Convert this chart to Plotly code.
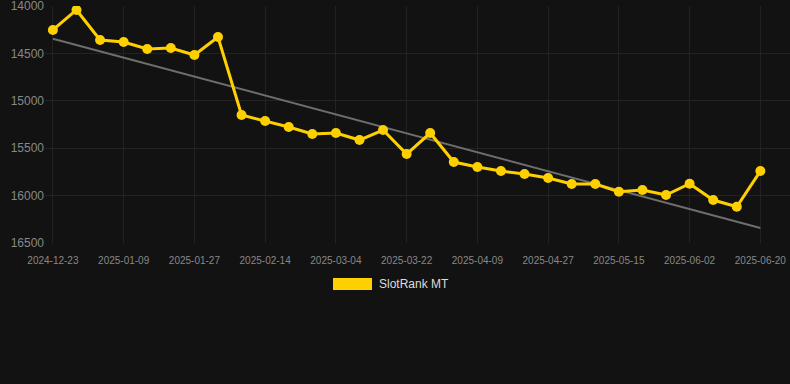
import plotly.graph_objects as go
import pandas as pd

# Data
start_date = "2024-12-23"
end_date = "2025-06-20"
n_points = 31
dates = list(pd.date_range(start_date, end_date, periods=n_points))
ranks = [14253, 14042, 14359, 14380, 14454, 14443, 14517, 14327, 15150, 15213,
         15277, 15350, 15340, 15414, 15308, 15562, 15340, 15646, 15699, 15741,
         15773, 15815, 15878, 15878, 15960, 15941, 15994, 15875, 16047, 16118,
         15741]
trend_dates = [start_date, end_date]
trend_values = [14345, 16342]
tick_dates = ["2024-12-23", "2025-01-09", "2025-01-27", "2025-02-14", "2025-03-04",
              "2025-03-22", "2025-04-09", "2025-04-27", "2025-05-15", "2025-06-02",
              "2025-06-20"]
tick_positions = list(pd.date_range(start_date, end_date, periods=len(tick_dates)))
y_ticks = [14000, 14500, 15000, 15500, 16000, 16500]
y_labels = [str(v) for v in y_ticks]
series_name = "SlotRank MT"

BG = "#121212"
GOLD = "#FFD000"
W, H = 790, 384
L, R, T, B = 45, 0, 6, 141

fig = go.Figure()
fig.add_trace(go.Scatter(x=trend_dates, y=trend_values, mode="lines",
                         line=dict(color="#6e6e6e", width=2), showlegend=False,
                         hoverinfo="skip"))
fig.add_trace(go.Scatter(x=dates, y=ranks, mode="lines+markers", name=series_name,
                         line=dict(color=GOLD, width=3),
                         marker=dict(color=GOLD, size=10), showlegend=False))

# manual legend (paper coords)
pw = W - L - R
ph = H - T - B
def px(x):
    return (x - L) / pw
def py(y):
    return (H - B - y) / ph
fig.add_shape(type="rect", xref="paper", yref="paper",
              x0=px(333), x1=px(372), y0=py(290), y1=py(278),
              fillcolor=GOLD, line=dict(width=0))
fig.add_annotation(xref="paper", yref="paper", x=px(377), y=py(284),
                   text=series_name, showarrow=False, xanchor="left", yanchor="middle",
                   font=dict(size=12, color="#dddddd"))

fig.update_layout(
    width=W, height=H,
    margin=dict(l=L, r=R, t=T, b=B),
    paper_bgcolor=BG, plot_bgcolor=BG,
    font=dict(family="Liberation Sans, Arial, sans-serif", color="#888888"),
    showlegend=False,
)
fig.update_xaxes(range=["2024-12-21", "2025-06-27 12:00"], tickvals=tick_positions,
                 ticktext=tick_dates, tickfont=dict(size=10, color="#888888"),
                 showgrid=True, gridcolor="#222222", gridwidth=1, zeroline=False,
                 showline=False, ticks="outside", ticklen=8, tickcolor=BG,
                 ticklabeloverflow="allow")
fig.update_yaxes(range=[16500, 14000], tickvals=y_ticks, ticktext=y_labels,
                 tickfont=dict(size=12, color="#888888"),
                 showgrid=True, gridcolor="#222222", gridwidth=1, zeroline=False,
                 showline=False, ticks="", ticklabeloverflow="allow")

fig.write_html("out.html", config={"displayModeBar": False})

with open("out.html", "r", encoding="utf-8") as f:
    html = f.read()
html = html.replace("<head>", "<head><style>html,body{margin:0;padding:0;background:#121212;overflow:hidden}</style>", 1)
with open("out.html", "w", encoding="utf-8") as f:
    f.write(html)
